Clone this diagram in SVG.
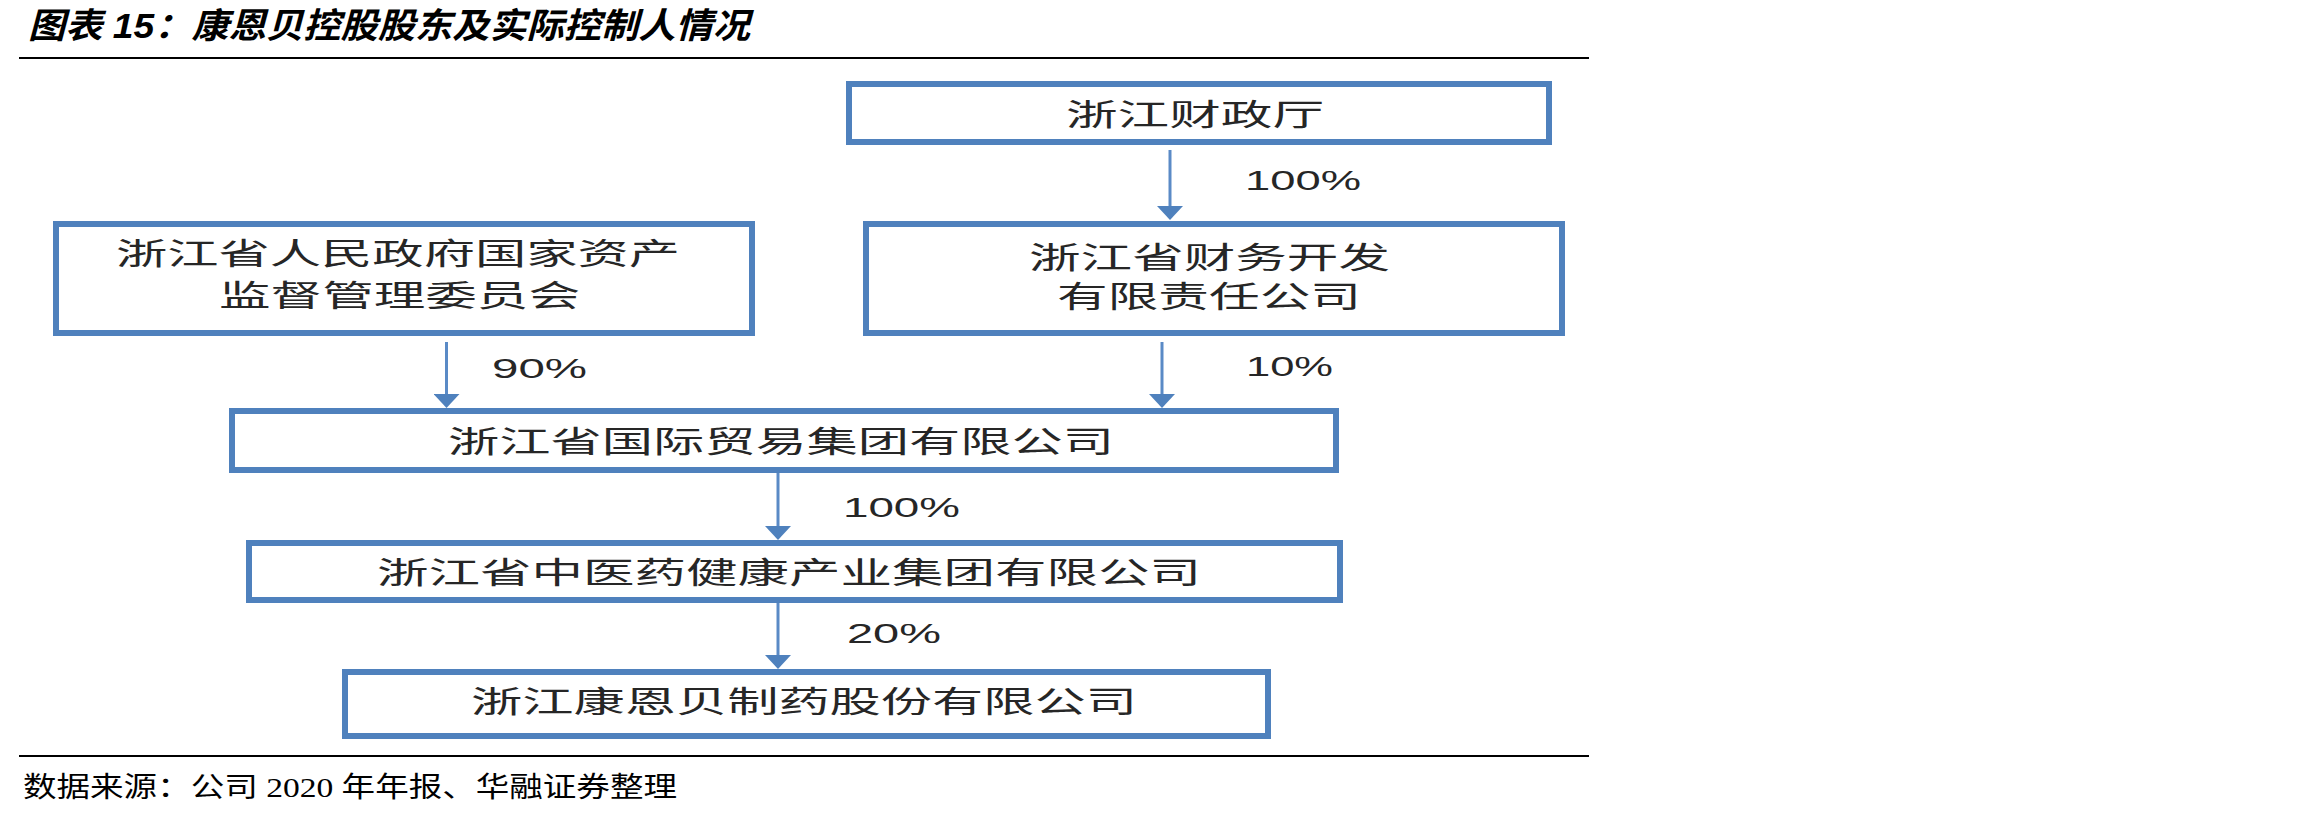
<svg xmlns="http://www.w3.org/2000/svg" width="2303" height="817" viewBox="0 0 2303 817">
  <style>
    .box { fill: #ffffff; stroke: #4f81bd; stroke-width: 6; }
    .t { font-family: "Liberation Sans", "Noto Sans CJK SC", sans-serif; font-size: 30px; fill: #262626; }
    .pct { font-family: "Liberation Sans", "Noto Sans CJK SC", sans-serif; font-size: 28px; fill: #262626; }
    .edge { stroke: #5a8ac6; stroke-width: 3; fill: none; }
    .rule { stroke: #000000; stroke-width: 2; }
  </style>
  <defs>
    <marker id="arr" markerUnits="userSpaceOnUse" markerWidth="14" markerHeight="26" viewBox="0 0 14 26" refX="6" refY="13" orient="auto">
      <path d="M0,0 L14,13 L0,26 Z" fill="#4f81bd"/>
    </marker>
  </defs>
  <rect width="2303" height="817" fill="#ffffff"/>

  <text x="28" y="38" font-family="'Liberation Sans', 'Noto Sans CJK SC', sans-serif" font-size="35" font-weight="bold" font-style="italic" fill="#000000" textLength="722" lengthAdjust="spacingAndGlyphs">图表 15：康恩贝控股股东及实际控制人情况</text>
  <line class="rule" x1="19" y1="58" x2="1589" y2="58"/>

  <g id="connectors">
    <line class="edge" x1="446.5" y1="342" x2="446.5" y2="400" marker-end="url(#arr)"/>
    <line class="edge" x1="1170" y1="150" x2="1170" y2="212" marker-end="url(#arr)"/>
    <line class="edge" x1="1162" y1="342" x2="1162" y2="400" marker-end="url(#arr)"/>
    <line class="edge" x1="778" y1="473" x2="778" y2="532" marker-end="url(#arr)"/>
    <line class="edge" x1="778" y1="603" x2="778" y2="661" marker-end="url(#arr)"/>
    <text class="pct" x="1245" y="190" textLength="116" lengthAdjust="spacingAndGlyphs">100%</text>
    <text class="pct" x="492" y="378" textLength="95" lengthAdjust="spacingAndGlyphs">90%</text>
    <text class="pct" x="1246" y="376" textLength="87" lengthAdjust="spacingAndGlyphs">10%</text>
    <text class="pct" x="843" y="517" textLength="117" lengthAdjust="spacingAndGlyphs">100%</text>
    <text class="pct" x="847" y="643" textLength="94" lengthAdjust="spacingAndGlyphs">20%</text>
  </g>

  <g id="node-sasac">
    <rect class="box" x="56" y="224" width="696" height="109"/>
    <text class="t" x="116" y="264" textLength="564" lengthAdjust="spacingAndGlyphs">浙江省人民政府国家资产</text>
    <text class="t" x="219" y="306" textLength="361" lengthAdjust="spacingAndGlyphs">监督管理委员会</text>
  </g>

  <g id="node-finance-dept">
    <rect class="box" x="849" y="84" width="700" height="58"/>
    <text class="t" x="1066" y="125" textLength="258" lengthAdjust="spacingAndGlyphs">浙江财政厅</text>
  </g>

  <g id="node-finance-dev">
    <rect class="box" x="866" y="224" width="696" height="109"/>
    <text class="t" x="1029" y="268" textLength="361" lengthAdjust="spacingAndGlyphs">浙江省财务开发</text>
    <text class="t" x="1057" y="307" textLength="304" lengthAdjust="spacingAndGlyphs">有限责任公司</text>
  </g>

  <g id="node-trade">
    <rect class="box" x="232" y="411" width="1104" height="59"/>
    <text class="t" x="448" y="452" textLength="666" lengthAdjust="spacingAndGlyphs">浙江省国际贸易集团有限公司</text>
  </g>

  <g id="node-tcm">
    <rect class="box" x="249" y="543" width="1091" height="57"/>
    <text class="t" x="377" y="583" textLength="824" lengthAdjust="spacingAndGlyphs">浙江省中医药健康产业集团有限公司</text>
  </g>

  <g id="node-conba">
    <rect class="box" x="345" y="672" width="923" height="64"/>
    <text class="t" x="471" y="712" textLength="666" lengthAdjust="spacingAndGlyphs">浙江康恩贝制药股份有限公司</text>
  </g>

  <line class="rule" x1="19" y1="756" x2="1589" y2="756"/>
  <text x="23" y="797" font-family="'Liberation Serif', 'Noto Sans CJK SC', serif" font-size="28" fill="#000000" textLength="654" lengthAdjust="spacingAndGlyphs">数据来源：公司 2020 年年报、华融证券整理</text>
</svg>
